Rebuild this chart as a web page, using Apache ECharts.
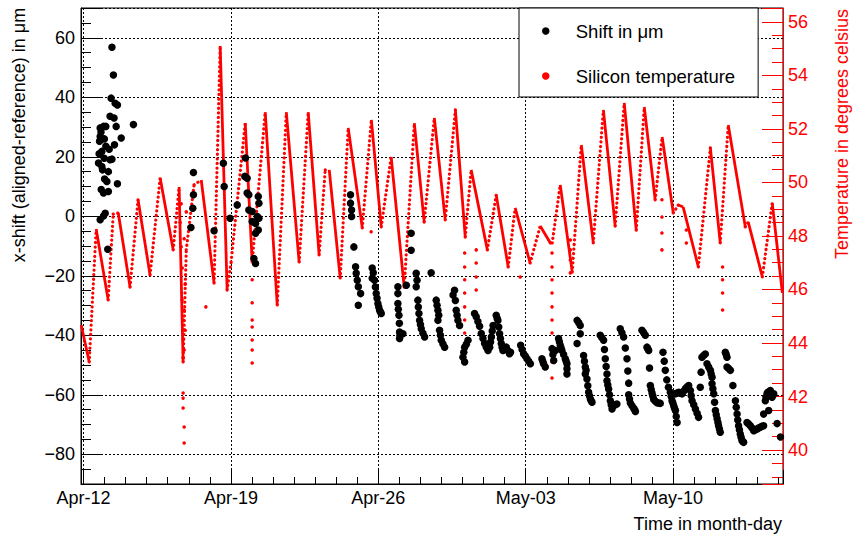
<!DOCTYPE html>
<html><head><meta charset="utf-8">
<script src="https://cdn.jsdelivr.net/npm/echarts@6/dist/echarts.min.js"></script>
<style>html,body{margin:0;padding:0;background:#fff}#c{width:854px;height:537px}</style>
</head><body><div id="c"></div>
<script>
// x values are days since Apr-12 00:00
const xTickDays = [0, 7, 14, 21, 28];
const xTickLabels = ['Apr-12', 'Apr-19', 'Apr-26', 'May-03', 'May-10'];

// Shift in μm  [day, shift]
const shiftPoints = [
[1.35,56.8],[1.42,47.5],[1.31,39.7],[1.50,38.0],[1.61,37.4],[1.26,33.6],[0.95,30.2],[0.79,29.7],[1.06,30.2],[1.55,30.2],[2.37,30.8],[0.79,26.8],[0.76,25.2],[1.79,26.3],[1.06,23.5],[1.47,24.0],[0.87,21.8],[0.71,17.9],[0.87,16.7],[1.26,19.0],[1.35,19.2],[0.90,15.6],[1.18,15.0],[1.11,11.7],[1.61,10.9],[1.18,8.3],[0.95,7.8],[1.03,1.0],[0.95,0.1],[0.79,-1.2],[1.15,-11.1],
[0.83,28.3],[0.99,26.0],[0.74,21.0],[0.98,19.5],[1.22,22.5],[1.00,12.5],[0.84,9.0],[1.45,33.0],
[5.22,14.7],[5.22,7.2],[5.19,2.7],[5.10,-3.8],[6.20,-4.9],[6.64,17.8],[6.68,10.0],[6.96,-0.7],
[7.30,3.8],[7.69,19.6],[7.66,13.4],[7.77,12.8],[7.77,7.8],[7.85,7.2],[7.85,2.1],[8.01,1.6],[8.01,-1.8],[8.17,-2.4],[8.30,6.6],[8.33,4.4],[8.25,-0.1],[8.33,-0.7],[8.30,-4.6],[8.17,-5.7],[8.09,-14.2],[8.17,-15.9],
[12.68,7.2],[12.68,4.4],[12.73,2.1],[12.73,-0.1],[12.84,-10.3],[12.92,-17.0],[12.95,-19.2],[13.00,-21.5],[13.05,-23.7],[13.16,-26.0],[13.05,-29.9],[13.71,-17.4],[13.71,-20.8],[13.82,-21.5],[13.90,-26.0],[13.98,-29.3],[14.06,-31.6],[14.14,-32.7],
[13.76,-19.0],[13.86,-23.8],[13.94,-27.6],[14.02,-30.5],[14.10,-32.2],
[14.93,-23.7],[14.93,-26.0],[14.93,-29.3],[14.98,-33.3],[15.01,-38.9],[15.01,-41.1],[15.17,-39.5],[15.33,-23.2],[15.56,-5.7],[15.56,-11.4],[15.80,-19.2],[15.80,-23.7],[15.88,-28.2],[15.93,-32.7],[15.96,-35.0],[16.04,-37.8],[16.20,-40.6],[16.51,-19.0],[16.75,-28.2],[16.83,-31.6],[16.83,-35.0],[16.91,-38.3],[16.99,-41.7],[17.15,-44.0],[17.62,-24.9],[17.55,-26.5],[17.70,-31.6],[17.78,-35.0],[17.86,-36.7],[18.26,-41.7],[18.10,-44.0],[18.02,-47.4],[18.10,-49.0],[18.57,-32.7],[18.65,-33.8],[18.81,-37.0],[18.89,-39.4],[19.05,-42.8],[19.21,-45.1],[19.60,-33.3],[19.68,-35.0],[19.76,-39.5],[19.84,-42.8],[19.92,-45.1],[19.45,-36.7],[19.37,-40.6],[19.29,-44.0],[20.08,-44.0],[20.23,-46.2],
[14.95,-31.3],[15.00,-36.0],[15.03,-40.0],[15.84,-21.5],[15.90,-30.5],[16.00,-36.4],[16.12,-39.3],[16.79,-29.9],[16.87,-33.3],[16.95,-40.0],[17.07,-42.9],[17.66,-28.3],[17.74,-33.3],[18.06,-45.7],[18.18,-43.0],[18.73,-35.4],[18.97,-41.1],[19.13,-44.0],[19.33,-42.3],[19.41,-38.6],[19.64,-34.2],[19.72,-37.2],[19.80,-41.1],[19.88,-44.0],
[20.28,-45.7],[20.76,-43.4],[20.90,-46.2],[21.06,-47.9],[21.22,-49.6],[21.77,-47.9],[21.85,-49.6],[21.93,-50.7],[22.25,-44.5],[22.33,-48.5],[22.41,-45.1],[22.56,-41.1],[22.64,-43.4],[22.72,-45.1],[22.88,-47.9],[22.96,-49.6],[22.96,-53.0],[23.44,-35.0],[23.59,-36.7],[23.59,-39.5],[23.44,-42.8],[23.75,-46.8],[23.83,-50.7],[23.83,-53.0],[23.91,-54.7],[23.99,-59.2],[24.07,-61.4],[24.15,-62.5],[24.54,-40.0],[24.70,-41.7],[24.78,-47.9],[24.86,-53.0],[24.86,-55.3],[24.94,-58.1],[25.02,-62.0],[25.10,-64.8],[25.17,-63.7],[25.33,-63.1],[25.49,-37.8],[25.65,-40.6],[25.81,-47.9],[25.89,-56.1],[25.89,-60.0],[25.97,-62.8],[26.13,-64.5],[26.21,-65.6],[26.52,-38.3],[26.68,-40.0],[26.76,-44.0],[26.84,-45.1],[26.92,-56.9],[27.00,-59.4],[27.08,-61.6],[27.24,-62.7],[27.39,-62.9],
[20.15,-45.1],[20.83,-44.8],[20.98,-47.0],[21.14,-48.7],[21.81,-48.7],[22.29,-46.5],[22.60,-42.2],[22.68,-44.2],[22.80,-46.5],[22.92,-48.7],[22.96,-51.3],[23.52,-35.8],[23.79,-48.7],[23.87,-51.8],[23.95,-57.0],[24.03,-60.3],[24.11,-62.0],[24.62,-40.8],[24.74,-44.8],[24.82,-50.5],[24.90,-56.7],[24.98,-60.0],[25.06,-63.4],[25.25,-63.4],[25.57,-39.2],[25.73,-44.3],[25.85,-52.0],[25.93,-61.4],[26.05,-63.7],[26.17,-65.0],[26.60,-39.1],[26.80,-44.5],[26.88,-51.0],[26.96,-58.2],[27.04,-60.5],[27.16,-62.2],[27.32,-62.8],
[27.52,-45.7],[27.63,-51.8],[27.87,-59.2],[27.95,-62.0],[28.03,-63.7],[28.11,-65.3],[28.19,-69.3],[28.11,-59.7],[28.27,-59.2],[28.43,-59.7],[28.58,-58.0],[28.74,-56.9],[28.82,-58.6],[28.90,-62.0],[29.06,-64.8],[29.21,-67.6],[29.29,-57.5],[29.37,-47.4],[29.53,-46.3],[29.61,-49.6],[29.77,-51.8],[29.85,-54.1],[29.85,-56.3],[29.93,-59.7],[30.01,-65.3],[30.09,-68.1],[30.16,-70.4],[30.24,-72.6],[30.48,-45.7],[30.56,-47.4],[30.56,-50.7],[30.72,-51.8],[30.96,-62.0],[31.04,-66.5],[31.11,-70.4],[31.19,-73.2],[31.27,-75.4],[31.35,-76.0],[31.51,-69.3],[31.67,-70.4],[31.83,-72.1],[31.99,-71.5],[32.14,-70.9],[32.30,-70.4],[32.38,-62.0],[32.46,-59.7],[32.62,-58.6],[32.70,-60.8],[32.78,-59.7],[32.54,-65.3],[32.30,-66.5],[32.94,-69.7],[33.10,-74.2],
[27.58,-48.7],[27.70,-55.0],[27.78,-57.5],[27.91,-60.6],[27.99,-62.8],[28.07,-64.5],[28.15,-67.3],[28.19,-59.4],[28.35,-59.5],[28.50,-58.8],[28.66,-57.4],[28.86,-60.3],[28.98,-63.4],[29.14,-66.2],[29.33,-52.4],[29.45,-46.8],[29.69,-50.7],[29.81,-53.0],[29.89,-58.0],[29.97,-62.5],[30.05,-66.7],[30.13,-69.3],[30.20,-71.5],[30.52,-46.5],[30.64,-51.2],[30.84,-56.9],[31.00,-64.2],[31.07,-68.5],[31.15,-71.8],[31.23,-74.3],[31.31,-75.7],[31.59,-69.8],[31.75,-71.2],[31.91,-71.8],[32.06,-71.2],[32.22,-70.6],[32.42,-60.8],[32.50,-59.2],[32.58,-58.9],[32.66,-59.7],[32.74,-60.2]
];

// Silicon temperature, main trace (read turning points)  [day, °C]
const tempTrace = [
[-0.11,44.67],[0.27,43.29],[0.60,48.26],[1.17,45.61],[1.41,48.82],[1.65,48.86],[2.21,46.09],[2.59,49.35],[3.16,46.54],[3.64,50.17],[4.26,47.48],[4.54,49.83],[4.73,43.29],[4.88,47.48],[5.25,49.91],[5.59,50.09],[6.20,46.24],[6.49,55.10],[6.82,45.98],[7.01,47.03],[7.68,52.22],[8.01,47.03],[8.63,52.63],[9.20,45.42],[9.63,52.63],[10.24,47.03],[10.67,52.63],[11.19,47.29],[11.48,50.47],[11.67,50.47],[12.19,46.43],[12.57,52.04],[13.24,48.30],[13.67,52.34],[14.14,48.34],[14.61,50.95],[15.23,46.09],[15.71,52.22],[16.18,48.52],[16.66,52.41],[17.18,48.60],[17.66,52.71],[18.13,47.96],[18.41,50.47],[19.18,47.48],[19.60,49.53],[20.17,46.84],[20.50,49.05],[21.21,46.99],[21.69,48.37],[22.17,47.74],[22.26,47.74],[22.64,49.91],[23.21,46.65],[23.64,51.40],[24.21,47.74],[24.69,52.71],[25.25,48.37],[25.68,52.97],[26.25,48.22],[26.63,52.82],[27.15,49.35],[27.48,51.70],[28.01,48.86],[28.25,49.16],[28.48,49.08],[29.20,46.84],[29.77,51.29],[30.24,47.74],[30.62,52.15],[31.43,48.34],[31.57,48.52],[32.24,46.47],[32.71,49.23],[33.19,45.87]
];

// Silicon temperature, isolated readings  [day, °C]
const tempDots = [
[4.68,45.61],[4.78,45.23],[4.73,44.86],[4.83,44.48],[4.73,44.11],[4.78,43.74],[4.73,43.44],[4.73,42.13],[4.73,41.94],[4.73,41.57],[4.78,40.86],[4.78,40.26],[4.59,48.5],[4.64,47.6],[4.69,46.8],[4.83,46.2],[4.88,48.9],[4.64,49.2],[4.78,47.9],
[5.81,45.35],
[8.01,46.36],[8.01,45.50],[8.01,44.86],[8.01,44.60],[8.01,44.11],[8.01,43.74],[8.01,43.25],
[13.66,48.16],
[18.10,47.36],[18.10,46.84],[18.10,46.36],[18.10,45.87],[18.10,45.35],[18.10,44.86],[18.10,44.37],[18.10,43.85],[18.10,43.36],
[18.65,47.48],[18.65,46.99],[18.65,46.47],[18.65,45.98],
[20.74,46.47],
[22.25,47.36],[22.25,46.84],[22.25,46.36],[22.25,45.87],[22.25,45.35],[22.25,44.86],[22.25,44.37],[22.25,43.85],[22.25,43.29],[22.25,42.69],
[23.12,47.85],[23.12,47.48],[23.12,47.10],[23.12,46.62],
[27.47,49.35],[27.47,48.71],[27.47,48.11],[27.47,47.48],
[28.63,48.22],[28.63,47.74],
[30.35,46.84],[30.35,46.36],[30.35,45.87],[30.35,45.23]
];

// split the read trace into cooling (dense) and warming (sparse) segments
const tempFalling = [], tempRising = [];
for (let i = 1; i < tempTrace.length; i++) {
  const a = tempTrace[i - 1], b = tempTrace[i];
  (b[1] < a[1] ? tempFalling : tempRising).push(a, b, [b[0], '-']);
}

const FONT = '"Liberation Sans", Arial, Helvetica, sans-serif';
const RED = '#ff0000';
const minus = s => String(s).replace('-', '\u2212');

const chart = echarts.init(document.getElementById('c'), null, {renderer: 'svg'});
chart.setOption({
  animation: false,
  backgroundColor: '#fff',
  grid: {left: 81, top: 8, width: 702, height: 476, show: true, borderColor: '#000', borderWidth: 1,
         containLabel: false, outerBoundsMode: 'none'},
  xAxis: {
    type: 'value', min: -0.12, max: 33.22, minInterval: 7, maxInterval: 7,
    axisLine: {show: true, onZero: false, lineStyle: {color: '#000', width: 1}},
    axisTick: {show: true, inside: true, length: 14, lineStyle: {color: '#000', width: 1}},
    minorTick: {show: true, splitNumber: 7, length: 7, lineStyle: {color: '#000', width: 1}},
    splitLine: {show: true, lineStyle: {color: '#000', width: 1, type: [2, 2]}},
    axisLabel: {
      margin: 5, color: '#000', fontFamily: FONT, fontSize: 18,
      formatter: v => { const i = xTickDays.findIndex(d => Math.abs(d - v) < 1e-6); return i >= 0 ? xTickLabels[i] : ''; }
    }
  },
  yAxis: [{
    type: 'value', position: 'left', min: -90, max: 70, minInterval: 20, maxInterval: 20,
    axisLine: {show: true, onZero: false, lineStyle: {color: '#000', width: 1}},
    axisTick: {show: true, inside: true, length: 20, lineStyle: {color: '#000', width: 1}},
    minorTick: {show: true, splitNumber: 4, length: 10, lineStyle: {color: '#000', width: 1}},
    splitLine: {show: true, lineStyle: {color: '#000', width: 1, type: [2, 2]}},
    axisLabel: {
      margin: 6, color: '#000', fontFamily: FONT, fontSize: 18,
      formatter: v => (Math.abs(v % 20) < 1e-6 ? minus(v) : '')
    }
  }, {
    type: 'value', position: 'right', min: 38.73, max: 56.52, minInterval: 2, maxInterval: 2,
    axisLine: {show: true, onZero: false, lineStyle: {color: RED, width: 1}},
    axisTick: {show: true, inside: true, length: 21, lineStyle: {color: RED, width: 1}},
    minorTick: {show: true, splitNumber: 4, length: 11, lineStyle: {color: RED, width: 1}},
    splitLine: {show: false},
    axisLabel: {
      margin: 5, color: RED, fontFamily: FONT, fontSize: 18,
      formatter: v => { const r = Math.round(v); return (Math.abs(v - r) < 1e-6 && r % 2 === 0) ? String(r) : ''; }
    }
  }],
  legend: {
    orient: 'vertical', left: 519, top: 8,
    padding: [13, 23, 11, 23], itemGap: 25, itemWidth: 50, itemHeight: 7.5,
    backgroundColor: '#fff', borderColor: '#000', borderWidth: 1, borderRadius: 0,
    selectedMode: false,
    textStyle: {fontFamily: FONT, fontSize: 18.5, color: '#000', lineHeight: 20},
    data: [
      {name: 'Shift in \u03bcm', icon: 'circle', itemStyle: {color: '#000', opacity: 1}},
      {name: 'Silicon temperature', icon: 'circle', itemStyle: {color: RED, opacity: 1}}
    ]
  },
  graphic: [
    {type: 'text', x: 19, y: 135, rotation: Math.PI / 2, silent: true,
     style: {text: 'x-shift (aligned-reference) in \u03bcm', fill: '#000', font: '18px ' + FONT, align: 'center', verticalAlign: 'middle'}},
    {type: 'text', x: 842, y: 134, rotation: Math.PI / 2, silent: true,
     style: {text: 'Temperature in degrees celsius', fill: RED, font: '18px ' + FONT, align: 'center', verticalAlign: 'middle'}},
    {type: 'text', x: 782, y: 524, silent: true,
     style: {text: 'Time in month-day', fill: '#000', font: '18px ' + FONT, align: 'right', verticalAlign: 'middle'}}
  ],
  series: [
    {type: 'line', name: 'Silicon temperature', yAxisIndex: 1, data: tempFalling, showSymbol: false, connectNulls: false,
     lineStyle: {color: RED, width: 2.8, opacity: 1}, itemStyle: {color: RED}, z: 2, silent: true},
    {type: 'line', name: 'Silicon temperature', yAxisIndex: 1, data: tempRising, showSymbol: false, connectNulls: false,
     lineStyle: {color: RED, width: 3.2, opacity: 1, type: [0.1, 4.5], cap: 'round'}, itemStyle: {color: RED}, z: 2, silent: true},
    {type: 'scatter', name: 'Silicon temperature', yAxisIndex: 1, data: tempDots, symbolSize: 3.5,
     itemStyle: {color: RED, opacity: 1}, z: 2, silent: true},
    {type: 'scatter', name: 'Shift in \u03bcm', yAxisIndex: 0, data: shiftPoints, symbolSize: 7.5,
     itemStyle: {color: '#000', opacity: 1}, z: 3, silent: true}
  ]
});
</script></body></html>
